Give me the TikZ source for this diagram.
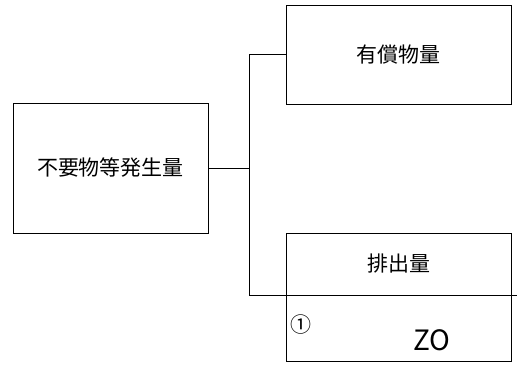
\documentclass[tikz,border=0pt]{standalone}
\usepackage{fontspec}
\setmainfont{Noto Sans CJK JP}
\usepackage{tikz}
\usetikzlibrary{positioning}
\tikzset{x=1pt, y=-1pt, every node/.style={font=\fontsize{21}{24}\selectfont},
  box/.style={draw, line width=0.8pt, inner sep=0pt, outer sep=0pt, minimum width=225pt},
  link/.style={line width=0.8pt},}

\begin{document}
\begin{tikzpicture}
        \useasboundingbox (0,0) rectangle (517,366);
        \node[box, minimum width=195pt, minimum height=130pt] at (110.5,168) (waste) {不要物等発生量};
        \node[box, minimum height=99pt] at (398.5,54.5) (valuable) {有償物量};
        \node[box, minimum height=62pt] at (398.5,264) (emission) {排出量};
        \node[box, minimum height=66pt] at (398.5,328) (amount) {};
        \node[anchor=west, inner sep=0pt] at (290,325) (mark) {①};
        \node at (432,340) (value) {\fontsize{28}{30}\selectfont ZO};
        \coordinate (split) at (249,168);

        \draw[link] (waste.east) -- (split)
                    (split) |- (valuable.west)
                    (split) |- (emission.south west);
        \draw[link] (emission.south east) -- ++(6,0);
    \end{tikzpicture}
\end{document}
